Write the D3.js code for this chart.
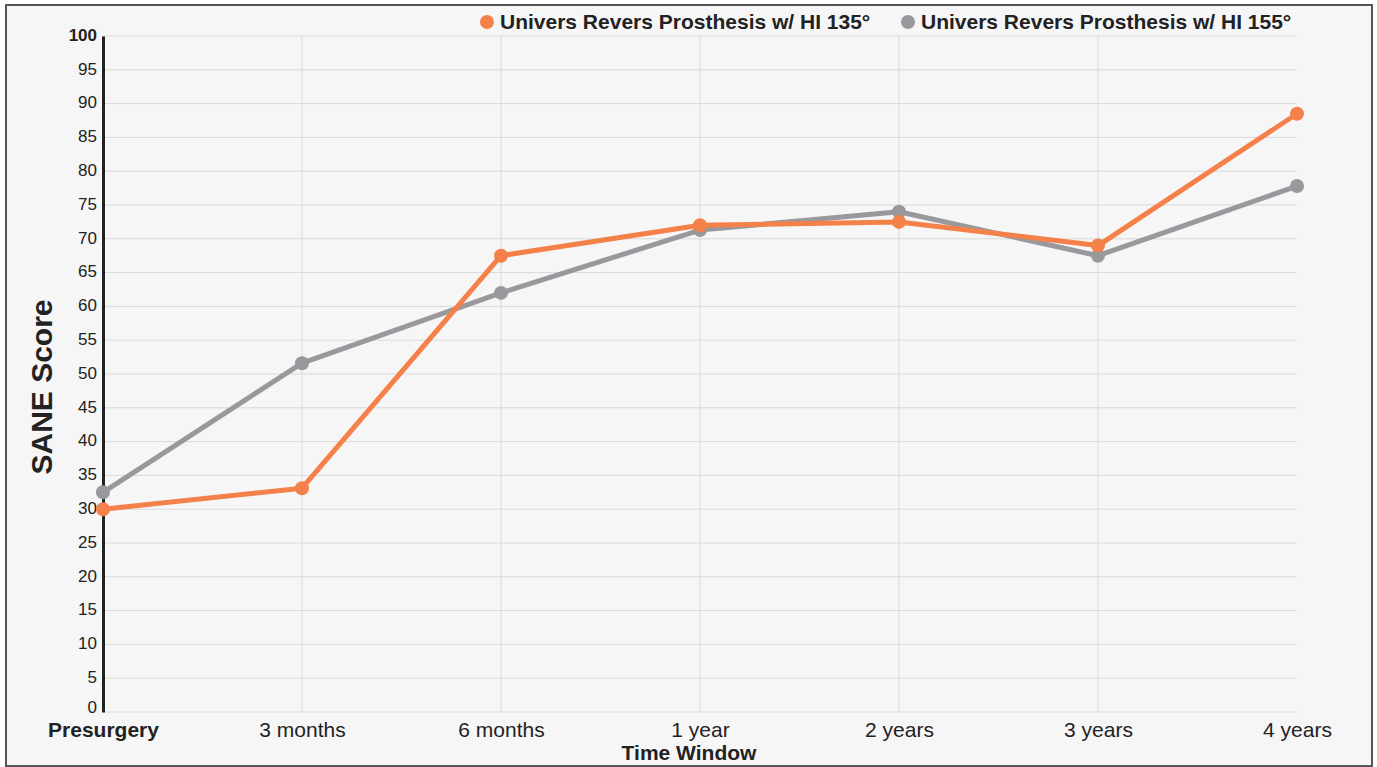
<!DOCTYPE html>
<html>
<head>
<meta charset="utf-8">
<script src="https://cdn.jsdelivr.net/npm/d3@7"></script>
<style>
  html, body { margin: 0; padding: 0; background: #fff; }
  svg { display: block; font-family: "Liberation Sans", Arial, sans-serif; }
</style>
</head>
<body>
<div id="chart"></div>
<script>
const categories = ["Presurgery", "3 months", "6 months", "1 year", "2 years", "3 years", "4 years"]
const hi135 = [30, 33.1, 67.5, 72, 72.5, 69, 88.5]
const hi155 = [32.5, 51.6, 62, 71.3, 74, 67.5, 77.8]
const seriesNames = ["Univers Revers Prosthesis w/ HI 135°", "Univers Revers Prosthesis w/ HI 155°"]
const yTicks = d3.range(0, 101, 5)

const WIDTH = 1377
const HEIGHT = 767
const COLORS = ["#f5814a", "#98989d"]

const svg = d3.select("#chart")
  .append("svg")
  .attr("width", WIDTH)
  .attr("height", HEIGHT)

// Frame
svg.append("rect")
  .attr("x", 6)
  .attr("y", 5)
  .attr("width", 1366)
  .attr("height", 761)
  .attr("fill", "#f6f6f6")
  .attr("stroke", "#555")
  .attr("stroke-width", 2)

const x = d3.scalePoint().domain(categories).range([103, 1297])
const y = d3.scaleLinear().domain([0, 100]).range([712, 36])

// Grid
const grid = svg.append("g")
grid.selectAll("line.h")
  .data(yTicks)
  .join("line")
  .attr("x1", 103)
  .attr("x2", 1297)
  .attr("y1", d => y(d))
  .attr("y2", d => y(d))
  .attr("stroke", "#d9d9d9")
  .attr("stroke-width", 1)

grid.selectAll("line.v")
  .data(categories.slice(1, -1))
  .join("line")
  .attr("x1", d => x(d))
  .attr("x2", d => x(d))
  .attr("y1", y(100))
  .attr("y2", y(0))
  .attr("stroke", "#d9d9d9")
  .attr("stroke-width", 1)

// Y axis
const yAxis = svg.append("g")
  .attr("transform", "translate(103,0)")
  .call(d3.axisLeft(y).tickValues(yTicks).tickSize(0).tickPadding(6))
yAxis.select(".domain").attr("stroke", "#222").attr("stroke-width", 3)
yAxis.selectAll("text")
  .attr("font-size", "17px")
  .attr("fill", "#222")
  .attr("dy", d => d === 0 ? "0.0em" : "0.25em")
  .attr("font-weight", d => d === 100 ? "bold" : "normal")
  .attr("font-family", "Liberation Sans, Arial, sans-serif")

// X axis
const xAxis = svg.append("g")
  .attr("transform", "translate(0,712)")
  .call(d3.axisBottom(x).tickSize(0).tickPadding(10))
xAxis.select(".domain").remove()
xAxis.selectAll("text")
  .attr("font-size", "21px")
  .attr("fill", "#222")
  .attr("font-weight", (d, i) => i === 0 ? "bold" : "normal")
  .attr("font-family", "Liberation Sans, Arial, sans-serif")

// Axis titles
svg.append("text")
  .attr("transform", `translate(52,${(y(0) + y(100)) / 2 + 13}) rotate(-90)`)
  .attr("text-anchor", "middle")
  .attr("font-size", "30px")
  .attr("font-weight", "bold")
  .attr("fill", "#222")
  .text("SANE Score")

svg.append("text")
  .attr("x", 689)
  .attr("y", 760)
  .attr("text-anchor", "middle")
  .attr("font-size", "21px")
  .attr("font-weight", "bold")
  .attr("fill", "#222")
  .text("Time Window")

// Series
const series = [hi135, hi155]
const line = d3.line()
  .x((d, i) => x(categories[i]))
  .y(d => y(d))

// draw gray first so orange sits on top where they cross
;[1, 0].forEach(s => {
  const g = svg.append("g")
  g.append("path")
    .datum(series[s])
    .attr("d", line)
    .attr("fill", "none")
    .attr("stroke", COLORS[s])
    .attr("stroke-width", 5)
    .attr("stroke-linejoin", "round")
  g.selectAll("circle")
    .data(series[s])
    .join("circle")
    .attr("cx", (d, i) => x(categories[i]))
    .attr("cy", d => y(d))
    .attr("r", 7)
    .attr("fill", COLORS[s])
})

// Legend
const legendX = [487, 908]
seriesNames.forEach((name, i) => {
  svg.append("circle")
    .attr("cx", legendX[i])
    .attr("cy", 22)
    .attr("r", 7)
    .attr("fill", COLORS[i])
  svg.append("text")
    .attr("x", legendX[i] + 13)
    .attr("y", 29)
    .attr("font-size", "21px")
    .attr("font-weight", "bold")
    .attr("fill", "#222")
    .text(name)
})
</script>
</body>
</html>
